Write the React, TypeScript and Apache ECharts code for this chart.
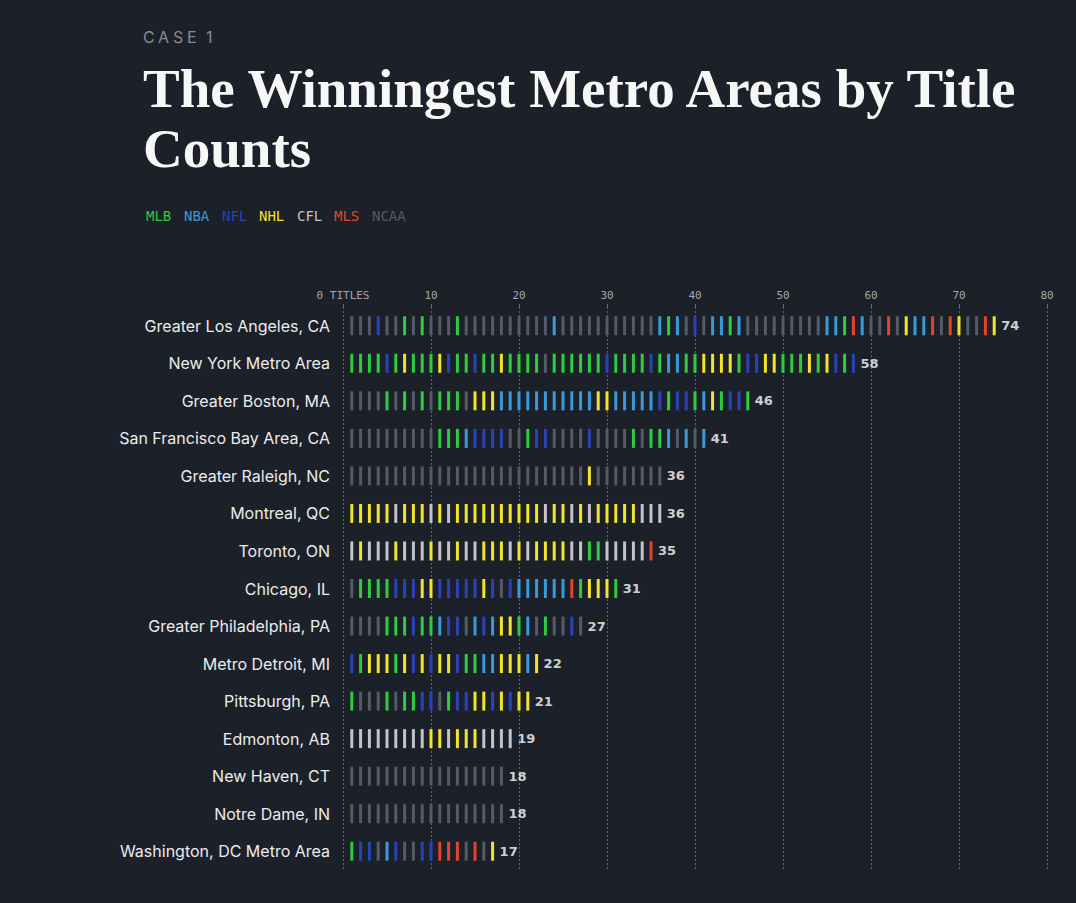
import React, { useEffect, useRef } from "react";
import * as echarts from "echarts";

const metros = [
  "Greater Los Angeles, CA",
  "New York Metro Area",
  "Greater Boston, MA",
  "San Francisco Bay Area, CA",
  "Greater Raleigh, NC",
  "Montreal, QC",
  "Toronto, ON",
  "Chicago, IL",
  "Greater Philadelphia, PA",
  "Metro Detroit, MI",
  "Pittsburgh, PA",
  "Edmonton, AB",
  "New Haven, CT",
  "Notre Dame, IN",
  "Washington, DC Metro Area",
];

const totals = [74, 58, 46, 41, 36, 36, 35, 31, 27, 22, 21, 19, 18, 18, 17];

// one letter per title, in order: G=MLB B=NBA D=NFL Y=NHL W=CFL R=MLS N=NCAA
const sequences = [
  "NNNDNNGNGN" + "NNGNNNNNNN" + "NNNBNNNNNN" + "NNNNNBGBND" + "NBBGBNNNNN" + "NNNNBBGRBN" + "NRNYBBRNRY" + "NNRY",
  "GGGGDGYGGG" + "YDGGDGGYGG" + "GGNGGGGGGD" + "GGGGDGBBGG" + "YYYYGDDYYG" + "GGYGYDGD",
  "NNNNGNGNGN" + "GGGNYYYBBB" + "BBBBBBBBYY" + "BBBBBDGDDG" + "BYGDDG",
  "NNNNNNNNNN" + "GGGBDDDDNN" + "GDDNNNNDNN" + "NNGNGGBNBNB",
  "NNNNNNNNNN" + "NNNNNNNNNN" + "NNNNNNNYNN" + "NNNNNN",
  "YYYYYWYYYW" + "YWYYYYYYYY" + "YYWYYWYWYY" + "YYYWWW",
  "WYWWWYWWWY" + "WWYWWYYYWY" + "WYYYYWWGGW" + "WWWWR",
  "NGGGGDDDYY" + "DDDDDYDNDB" + "BBBBBRGYYYG",
  "NNNNGGGDGG" + "BDDNBDBYYG" + "BNGNNDN",
  "DGYYYGYDYD" + "YYDGGBBYYYBY",
  "GNNNGNGGDD" + "NGDDYYDYDYY",
  "WWWWWWWWWY" + "YWYYYWWWW",
  "NNNNNNNNNN" + "NNNNNNNN",
  "NNNNNNNNNN" + "NNNNNNNN",
  "GDDNBDNNDD" + "RRRNRNY",
];

const leagues = ["MLB", "NBA", "NFL", "NHL", "CFL", "MLS", "NCAA"];
const leagueCodes = ["G", "B", "D", "Y", "W", "R", "N"];
const leagueColors = ["#2ecc40", "#3a9ad9", "#2c42b8", "#f2e42a", "#c6c2ca", "#e5432a", "#545b66"];

const axisMax = 80;
const axisStep = 10;

const BG = "#1b2029";

export default function App() {
  const ref = useRef<HTMLDivElement>(null);

  useEffect(() => {
    document.body.style.margin = "0";
    document.body.style.background = BG;
    const chart = echarts.init(ref.current!, null, { renderer: "svg" });

    const leagueSeries = leagueCodes.map((code, li) => {
      const data: number[][] = [];
      sequences.forEach((seq, r) => {
        for (let i = 0; i < seq.length; i++) {
          if (seq[i] === code) data.push([i + 1, r]);
        }
      });
      return {
        type: "scatter",
        name: leagues[li],
        data,
        symbol: "rect",
        symbolSize: [3, 19],
        itemStyle: { color: leagueColors[li], opacity: 1 },
        silent: true,
        z: 3,
      };
    });

    const labelSeries = {
      type: "scatter",
      data: totals.map((t, r) => [t, r]),
      symbolSize: 0,
      silent: true,
      label: {
        show: true,
        position: "right",
        distance: 7,
        formatter: (p: any) => String(p.data[0]),
        color: "#ffffff",
        fontFamily: "DejaVu Sans",
        fontWeight: "bold",
        fontSize: 13,
      },
      z: 4,
    };

    const caseLetters = [
      { t: "C", x: 143 },
      { t: "A", x: 158 },
      { t: "S", x: 173 },
      { t: "E", x: 187 },
      { t: "1", x: 206 },
    ];
    const legendX = [146, 184, 222, 259, 297, 334, 372];

    const graphics: any[] = [
      ...caseLetters.map((c) => ({
        type: "text",
        left: c.x,
        top: 29,
        style: { text: c.t, font: "16px Inter", fill: "#858b95" },
      })),
      {
        type: "text",
        x: 143,
        y: 88,
        style: {
          text: "The Winningest Metro Areas by Title",
          font: "bold 55px 'Liberation Serif'",
          fill: "#f7f7f5",
          verticalAlign: "middle",
        },
      },
      {
        type: "text",
        x: 143,
        y: 148,
        style: {
          text: "Counts",
          font: "bold 55px 'Liberation Serif'",
          fill: "#f7f7f5",
          verticalAlign: "middle",
        },
      },
      ...leagues.map((lg, i) => ({
        type: "text",
        x: legendX[i],
        y: 216,
        style: {
          text: lg,
          font: "14px 'DejaVu Sans Mono'",
          fill: leagueColors[i],
          verticalAlign: "middle",
        },
      })),
    ];

    chart.setOption({
      animation: false,
      backgroundColor: BG,
      graphic: graphics,
      grid: { left: 343, right: 29, top: 307, bottom: 33, containLabel: false },
      xAxis: {
        type: "value",
        position: "top",
        min: 0,
        max: axisMax,
        interval: axisStep,
        axisLine: { show: false },
        axisTick: { show: true, length: 3, lineStyle: { color: "#6a6f78" } },
        axisLabel: {
          margin: 6,
          color: "#a3a7ad",
          fontFamily: "DejaVu Sans Mono",
          fontSize: 11,
          formatter: (v: number) => (v === 0 ? "0 TITLES" : String(v)),
        },
        splitLine: { show: true, lineStyle: { color: "#5f646d", type: [2, 2], width: 1 } },
      },
      yAxis: {
        type: "category",
        data: metros,
        inverse: true,
        axisLine: { show: false },
        axisTick: { show: false },
        splitLine: { show: false },
        axisLabel: {
          margin: 13,
          color: "#ececec",
          fontFamily: "Inter",
          fontSize: 16,
        },
      },
      series: [...leagueSeries, labelSeries],
    });

    return () => chart.dispose();
  }, []);

  return (
    <div
      ref={ref}
      style={{ position: "absolute", left: 0, top: 0, width: 1076, height: 903, background: BG }}
    />
  );
}
